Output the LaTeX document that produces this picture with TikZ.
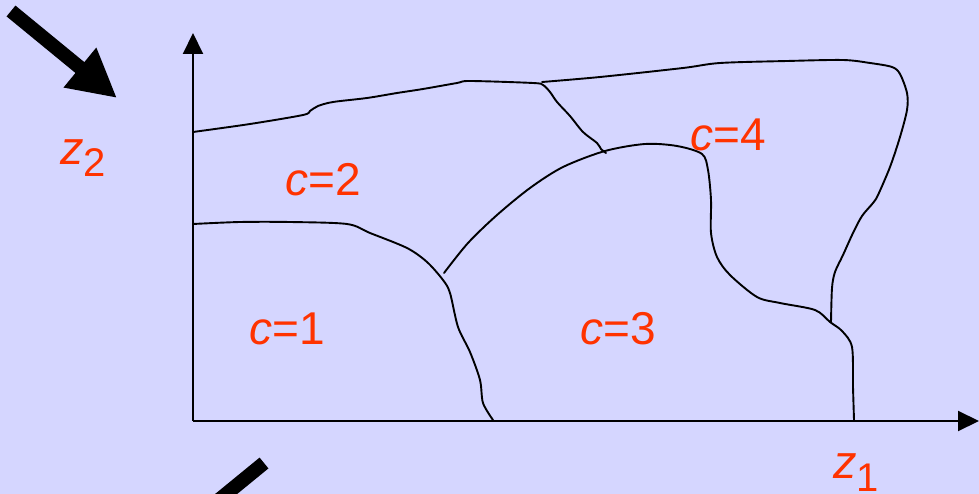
\documentclass[tikz,border=0pt]{standalone}
\usepackage{fontspec}
\setmainfont{Liberation Sans}
\usetikzlibrary{arrows.meta}
\definecolor{bgblue}{RGB}{213,214,255}
\definecolor{labelred}{RGB}{255,51,0}

\begin{document}
\begin{tikzpicture}[x=1pt,y=-1pt,
    axis/.style={line width=2pt,-{Triangle[length=21pt,width=20pt]}},
    border/.style={line width=1.9pt,line join=round,line cap=round},
    bigarrow/.style={line width=14pt},
    classlabel/.style={text=labelred,inner sep=0pt,anchor=base west,font=\fontsize{46}{52}\selectfont},
    varlabel/.style={text=labelred,inner sep=0pt,anchor=base west,font=\fontsize{47}{52}\selectfont}]

% Background
\fill[bgblue] (0,0) rectangle (979,494);
\clip (0,0) rectangle (979,494);

% Axes
\coordinate (origin) at (193,421);
\coordinate (ytip) at (193,33);
\coordinate (xtip) at (979,421);
\draw[axis] (origin) -- (ytip);
\draw[axis] (origin) -- (xtip);

% Big arrows
\coordinate (inA) at (11,11);
\coordinate (inB) at (117,98);
\coordinate (outA) at (264,463);
\coordinate (outB) at (198,517);
\draw[bigarrow,-{Triangle[length=48pt,width=48pt]}] (inA) -- (inB);
\draw[bigarrow] (outA) -- (outB);

% Region boundaries
\draw[border] plot[smooth,tension=0.5] coordinates {(193,132) (250,124) (303,115) (310,111) (318,106) (333,102) (367,98) (397,93) (423,89) (457,83) (470,81) (533,83) (543,85) (550,92) (557,102) (570,116) (583,132) (597,143) (601,149) (606,153)};
\draw[border] plot[smooth,tension=0.5] coordinates {(542,82) (600,77) (683,68) (720,63) (787,61) (843,60) (870,63) (892,67) (900,74) (907,93) (907,110) (900,137) (890,167) (878,195) (873,203) (862,216) (853,233) (843,255) (835,272) (832,288) (831,322)};
\draw[border] plot[smooth,tension=0.5] coordinates {(444,273) (468,243) (497,215) (530,188) (563,167) (605,151) (645,144) (677,146) (702,154) (708,170) (711,200) (711,233) (717,257) (730,275) (757,297) (780,303) (815,310) (830,322) (842,331) (852,347) (853,387) (854,420)};
\draw[border] plot[smooth,tension=0.5] coordinates {(193,224) (240,222) (290,222) (347,224) (370,233) (407,248) (427,262) (443,280) (450,293) (458,327) (470,352) (480,380) (483,403) (493,420)};

% Axis labels
\node[varlabel] (ztwo) at (60,165) {\itshape z\normalfont\raisebox{-12pt}{\fontsize{40}{44}\selectfont 2}};
\node[varlabel] (zone) at (833,478) {\itshape z\normalfont\raisebox{-13pt}{\fontsize{40}{44}\selectfont 1}};

% Region labels
\node[classlabel] (cone) at (249,344) {\itshape c\normalfont=1};
\node[classlabel] (ctwo) at (285,196) {\itshape c\normalfont=2};
\node[classlabel] (cthree) at (580,344) {\itshape c\normalfont=3};
\node[classlabel] (cfour) at (690,151) {\itshape c\normalfont=4};

\end{tikzpicture}
\end{document}
